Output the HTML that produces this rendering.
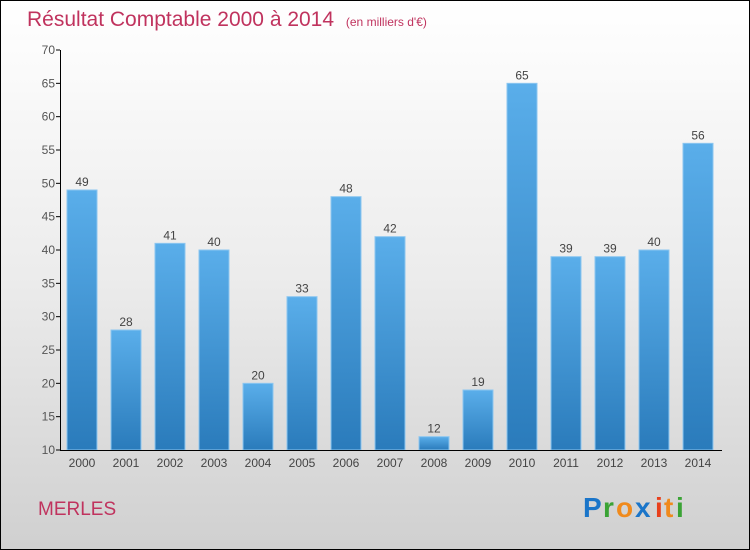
<!DOCTYPE html>
<html><head><meta charset="utf-8"><style>
body{margin:0;background:#fff}
#c{position:relative;width:748px;height:548px;border:1px solid #000;background:linear-gradient(#fff 0%,#ececec 50%,#d0d0d0 100%);font-family:"Liberation Sans",sans-serif;overflow:hidden}
</style></head><body>
<div id="c">
<svg width="748" height="548" id="svg">
<defs><linearGradient id="bg" x1="0" y1="0" x2="0" y2="1"><stop offset="0" stop-color="#5aaeea"/><stop offset="1" stop-color="#2a7bbb"/></linearGradient></defs>
<text x="26" y="25" font-size="21" fill="#c0335e">Résultat Comptable 2000 à 2014 <tspan font-size="12" dx="6">(en milliers d'€)</tspan></text>
<text x="37" y="514" font-size="19" fill="#c0335e">MERLES</text>
<g id="logo" font-size="28" font-weight="bold" font-family="'Liberation Sans',sans-serif">
<text x="582" y="516" fill="#1a75c9">P</text><text x="602" y="516" fill="#3aa335">r</text><text x="615" y="516" fill="#f08a1c">o</text><text x="634" y="516" fill="#1a75c9">x</text><text x="654" y="516" fill="#e8401c">i</text><text x="663" y="516" fill="#f08a1c">t</text><text x="675" y="516" fill="#3aa335">i</text>
</g>
<g id="plot"></g>
</svg>
</div>
<script>
const categories=["2000","2001","2002","2003","2004","2005","2006","2007","2008","2009","2010","2011","2012","2013","2014"];
const values=[49,28,41,40,20,33,48,42,12,19,65,39,39,40,56];
const yTicks=[10,15,20,25,30,35,40,45,50,55,60,65,70];
const ns="http://www.w3.org/2000/svg";
const g=document.getElementById('plot');
const y=v=>449-(v-10)*400/60;
const x=i=>81+i*44;
function mk(t,a,txt){const e=document.createElementNS(ns,t);for(const k in a)e.setAttribute(k,a[k]);if(txt!=null)e.textContent=txt;g.appendChild(e);return e;}
yTicks.forEach(t=>{
 const tk=mk('line',{x1:55,x2:59,y1:y(t),y2:y(t),stroke:'#000'});
 
 
 const l=mk('text',{x:54,y:y(t)+4,'font-size':12,fill:'#555','text-anchor':'end'},t);
 
 
});
values.forEach((v,i)=>{
 const b=mk('rect',{x:x(i)-15,y:y(v),width:30,height:y(10)-y(v),fill:'url(#bg)',stroke:'#8cc6f0','stroke-width':1});
 
 
 const l=mk('text',{x:x(i),y:y(v)-4,'font-size':12,fill:'#444','text-anchor':'middle'},v);
 
 
 const c=mk('text',{x:x(i),y:466,'font-size':12,fill:'#444','text-anchor':'middle'},categories[i]);
 
 
});
const ya=mk('line',{x1:59.5,x2:59.5,y1:y(70),y2:y(10),stroke:'#000'});


const xa=mk('line',{x1:59,x2:721,y1:y(10)+0.5,y2:y(10)+0.5,stroke:'#000'});


</script>
</body></html>
